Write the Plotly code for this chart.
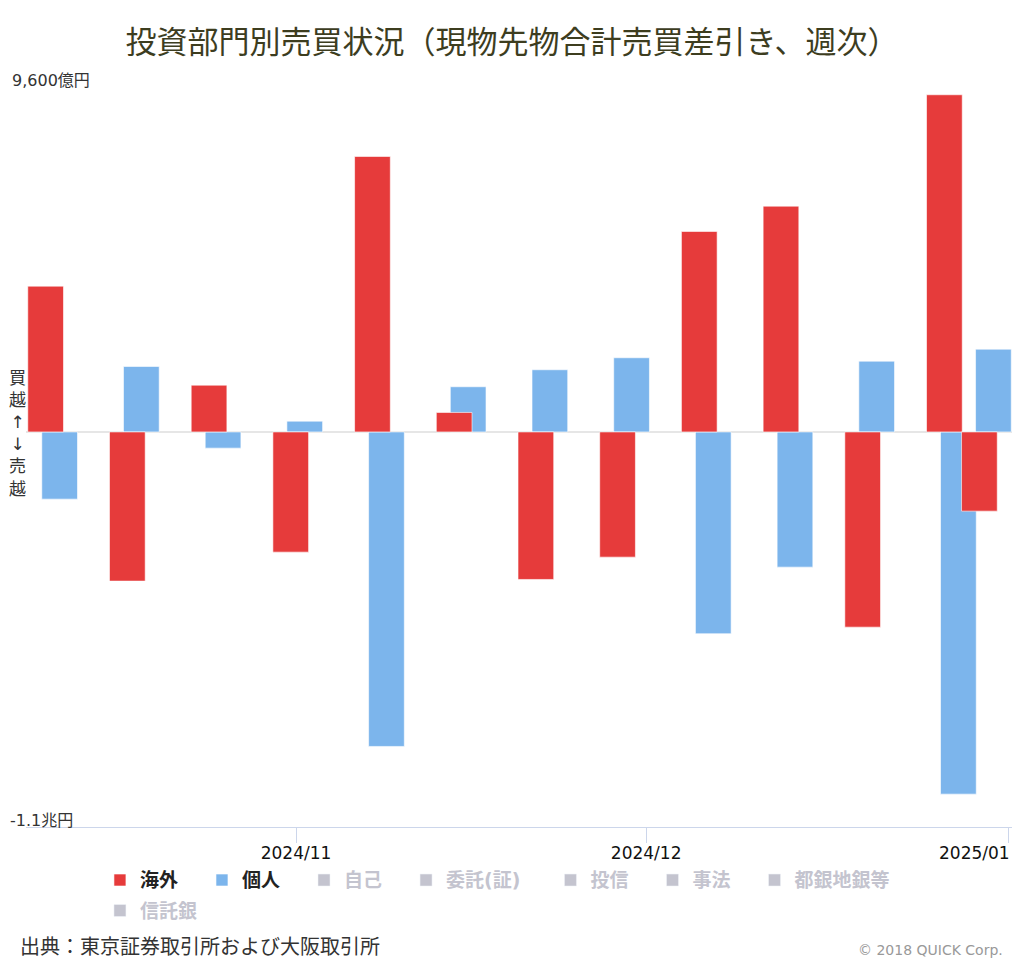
import plotly.graph_objects as go

# 週次（週末の日付）、単位：億円
weeks = ["2024-10-11", "2024-10-18", "2024-10-25", "2024-11-01", "2024-11-08",
         "2024-11-15", "2024-11-22", "2024-11-29", "2024-12-06", "2024-12-13",
         "2024-12-20", "2024-12-27", "2024-12-30"]
kaigai = [4023, -4116, 1291, -3316, 7601, 538, -4070, -3454, 5532, 6230, -5386, 9303, -2185]
kojin = [-1854, 1807, -447, 298, -8677, 1247, 1716, 2047, -5568, -3730, 1953, -9993, 2284]

# 非表示の部門（凡例のみ、値は表示されていない）
hidden_names = ["自己", "委託(証)", "投信", "事法", "都銀地銀等", "信託銀"]
hidden_values = [None] * len(weeks)

tick_dates = ["2024-11-01", "2024-12-01", "2025-01-01"]
tick_labels = ["2024/11", "2024/12", "2025/01"]
y_max_label = "9,600億円"
y_min_label = "-1.1兆円"

FONT = "DejaVu Sans, Noto Sans CJK JP, sans-serif"
RED = "#e63b3b"
BLUE = "#7cb5ec"
GREY = "#8a8aa0"
DAY = 86400000  # ms
PAD = "\u3000"

fig = go.Figure()

# 個人を先に描画して海外を上に重ねる
fig.add_trace(go.Bar(
    x=weeks, y=kojin, name="<b>個人</b>" + PAD,
    marker=dict(color=BLUE, line=dict(color="rgba(255,255,255,0.6)", width=1)),
    offset=-0.78 * DAY, width=3.06 * DAY, legendrank=2,
))
fig.add_trace(go.Bar(
    x=weeks, y=kaigai, name="<b>海外</b>" + PAD,
    marker=dict(color=RED, line=dict(color="rgba(255,255,255,0.6)", width=1)),
    offset=-1.98 * DAY, width=3.06 * DAY, legendrank=1,
))

for i, n in enumerate(hidden_names):
    pad = "" if n in ("都銀地銀等", "信託銀") else PAD
    if n == "委託(証)":
        pad = PAD + "\u00a0"
    fig.add_trace(go.Bar(
        x=weeks, y=hidden_values,
        name=f"<span style='color:{GREY}'><b>{n}</b></span>" + pad,
        marker_color=GREY, visible="legendonly", legendrank=3 + i,
        legend="legend2" if n == "信託銀" else "legend",
    ))

legend_style = dict(orientation="h", xanchor="left", yanchor="top", x=0.075,
                    font=dict(family=FONT, size=19, color="#222"),
                    bgcolor="rgba(0,0,0,0)", traceorder="normal")

fig.update_layout(
    width=1024, height=964,
    margin=dict(l=26, r=12, t=84, b=137),
    paper_bgcolor="white", plot_bgcolor="white",
    barmode="overlay",
    showlegend=True,
    font=dict(family=FONT, color="#333"),
    title=dict(text="投資部門別売買状況（現物先物合計売買差引き、週次）",
               x=0.5, xref="container", xanchor="center",
               y=1 - 42 / 964, yref="container", yanchor="middle",
               font=dict(family=FONT, size=31, color="#3d3d1f")),
    legend=dict(legend_style, y=-0.046),
    legend2=dict(legend_style, y=-0.087),
    hovermode="x",
)

fig.update_xaxes(
    type="date",
    range=["2024-10-08 20:50", "2025-01-01 08:14"],
    tickvals=tick_dates, ticktext=tick_labels[:2] + [""],
    ticks="outside", ticklen=15, tickcolor="#ccd6eb",
    ticklabelstandoff=-4,
    tickfont=dict(family=FONT, size=17, color="#111"),
    showline=True, linecolor="#ccd6eb", linewidth=1,
    showgrid=False, zeroline=False,
)
fig.update_yaxes(
    range=[-10900, 9600],
    tickvals=[9600], showticklabels=False,
    showgrid=True, gridcolor="#e6e6e6", gridwidth=1,
    zeroline=True, zerolinecolor="#e6e6e6", zerolinewidth=2,
    showline=False,
)

ann = [
    dict(text=y_max_label, xref="paper", x=-16 / 986, xanchor="left",
         yref="y", y=9600, yanchor="middle", yshift=4, showarrow=False,
         bgcolor="white", borderpad=1, font=dict(size=16, color="#333")),
    dict(text=y_min_label, xref="paper", x=-18 / 986, xanchor="left",
         yref="y", y=-10900, yanchor="middle", yshift=7, showarrow=False,
         font=dict(size=16, color="#333")),
    dict(text="買<br>越<br>↑<br>↓<br>売<br>越", xref="paper", x=-9 / 986,
         xanchor="center", yref="y", y=0, yanchor="middle", yshift=-2,
         showarrow=False, font=dict(size=17, color="#333")),
    dict(text=tick_labels[2], xref="x", x=tick_dates[2], xanchor="right", xshift=4,
         yref="paper", y=0, yanchor="top", yshift=-14, showarrow=False,
         font=dict(size=17, color="#111")),
    dict(text="出典：東京証券取引所および大阪取引所", xref="paper", x=-8 / 986,
         xanchor="left", yref="paper", y=-120 / 743, yanchor="middle",
         showarrow=False, font=dict(size=20, color="#333")),
    dict(text="© 2018 QUICK Corp.", xref="paper", x=979 / 986, xanchor="right",
         yref="paper", y=-123 / 743, yanchor="middle", showarrow=False,
         font=dict(size=14, color="#999")),
]
fig.update_layout(annotations=ann)

fig.write_html("out.html", config={"displayModeBar": False},
               post_script="document.body.style.margin='0';")
